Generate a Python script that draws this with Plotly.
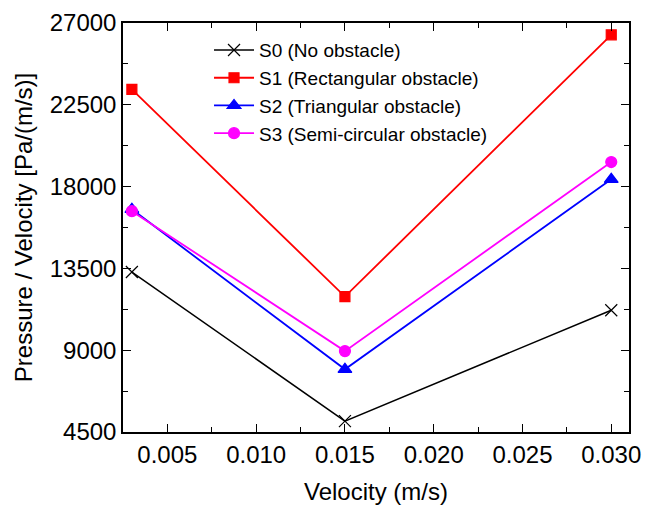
import plotly.graph_objects as go

velocity = [0.003, 0.015, 0.030]
s0 = [13300, 5100, 11200]
s1 = [23350, 11950, 26350]
s2 = [16750, 7950, 18400]
s3 = [16650, 8950, 19350]
names = ["S0 (No obstacle)", "S1 (Rectangular obstacle)",
         "S2 (Triangular obstacle)", "S3 (Semi-circular obstacle)"]
y_ticks = [4500, 9000, 13500, 18000, 22500, 27000]
x_ticks = [0.005, 0.010, 0.015, 0.020, 0.025, 0.030]

series = [
    (s0, names[0], "black", "x-thin", 12, 1.5),
    (s1, names[1], "#ff0000", "square", 10, 1.8),
    (s2, names[2], "#0000ff", "triangle-up", 12, 1.8),
    (s3, names[3], "#ff00ff", "circle", 11, 1.8),
]

fig = go.Figure()
for vals, nm, col, sym, sz, lw in series:
    fig.add_trace(go.Scatter(
        x=velocity, y=vals, name=nm, mode="lines+markers",
        line=dict(color=col, width=lw),
        marker=dict(symbol=sym, size=sz, color=col,
                    line=dict(color=col, width=1.2)),
    ))

font = "Liberation Sans, Arial, sans-serif"
fig.update_layout(
    width=646, height=505,
    margin=dict(l=123, r=17, t=23, b=73),
    paper_bgcolor="white", plot_bgcolor="white",
    font=dict(family=font, color="black"),
    showlegend=True,
    legend=dict(x=0.17, y=0.98, xanchor="left", yanchor="top",
                bgcolor="rgba(0,0,0,0)", font=dict(size=19, family=font),
                tracegroupgap=0, itemwidth=40),
    xaxis=dict(
        range=[0.0025, 0.031], tickvals=x_ticks,
        ticktext=[f"{v:.3f}" for v in x_ticks],
        ticks="inside", ticklen=8, tickwidth=1.2, tickcolor="black",
        minor=dict(dtick=0.0025, tick0=0.0025, ticks="inside", ticklen=5,
                   tickwidth=1.2, tickcolor="black"),
        showline=True, linecolor="black", linewidth=1.5, mirror="ticks",
        showgrid=False, zeroline=False, automargin=False,
        tickfont=dict(size=24, family=font),
        title=dict(text="Velocity (m/s)", font=dict(size=24, family=font),
                   standoff=18),
    ),
    yaxis=dict(
        range=[4500, 27000], tickvals=y_ticks,
        ticktext=[str(v) for v in y_ticks],
        ticks="inside", ticklen=8, tickwidth=1.2, tickcolor="black",
        minor=dict(dtick=2250, tick0=4500, ticks="inside", ticklen=5,
                   tickwidth=1.2, tickcolor="black"),
        showline=True, linecolor="black", linewidth=1.5, mirror="ticks",
        showgrid=False, zeroline=False, automargin=False,
        tickfont=dict(size=24, family=font),
        title=dict(text="Pressure / Velocity [Pa/(m/s)]",
                   font=dict(size=24, family=font), standoff=10),
    ),
)

fig.write_html("out.html")
